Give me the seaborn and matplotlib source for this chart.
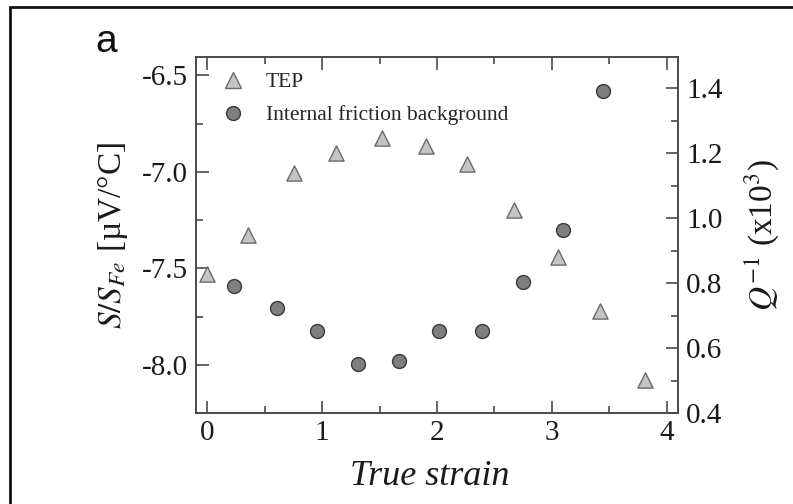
import matplotlib
matplotlib.use("Agg")
import matplotlib.pyplot as plt
import seaborn as sns
import pandas as pd
from matplotlib.patches import Rectangle
from matplotlib.ticker import MultipleLocator
from matplotlib.lines import Line2D

# ---- data ----
tep_strain = [0.0, 0.35, 0.75, 1.12, 1.52, 1.90, 2.26, 2.67, 3.05, 3.42, 3.81]
tep_values = [-7.53, -7.325, -7.005, -6.90, -6.825, -6.866, -6.96, -7.196, -7.44, -7.72, -8.08]
if_strain = [0.23, 0.61, 0.95, 1.31, 1.67, 2.02, 2.39, 2.75, 3.10, 3.45]
if_values = [0.79, 0.723, 0.652, 0.55, 0.56, 0.652, 0.652, 0.803, 0.963, 1.39]
x_ticks = [0, 1, 2, 3, 4]
left_ticks = [-6.5, -7.0, -7.5, -8.0]
right_ticks = [0.4, 0.6, 0.8, 1.0, 1.2, 1.4]

sns.set_style("white")
plt.rcParams["font.family"] = ["Liberation Serif", "DejaVu Serif"]
plt.rcParams["mathtext.fontset"] = "stix"

fig = plt.figure(figsize=(7.93, 5.04), dpi=100)
ax = fig.add_axes([196/793, 1-413/504, (678-196)/793, (413-57)/504])
ax2 = ax.twinx()

df_tep = pd.DataFrame({"strain": tep_strain, "val": tep_values})
df_if = pd.DataFrame({"strain": if_strain, "val": if_values})

sns.scatterplot(data=df_tep, x="strain", y="val", ax=ax, marker="^", s=120,
                color="#c4c4c4", edgecolor="#6a6a6a", linewidth=1.0, zorder=3)
sns.scatterplot(data=df_if, x="strain", y="val", ax=ax2, marker="o", s=100,
                color="#7f7f7f", edgecolor="#3a3a3a", linewidth=1.0, zorder=3)

ax.set_xlim(-0.1, 4.1)
ax.set_ylim(-8.25, -6.405)
ax2.set_ylim(0.4, 1.496)

spine_c = "#4a4a4a"
for a in (ax, ax2):
    for sp in a.spines.values():
        sp.set_color(spine_c)
        sp.set_linewidth(1.2)

ax.set_xticks(x_ticks)
ax.set_xticklabels([str(v) for v in x_ticks])
ax.xaxis.set_minor_locator(MultipleLocator(0.5))
ax.set_yticks(left_ticks)
ax.set_yticklabels([f"{v:.1f}" for v in left_ticks])
ax.yaxis.set_minor_locator(MultipleLocator(0.25))
ax2.set_yticks(right_ticks)
ax2.set_yticklabels([f"{v:.1f}" for v in right_ticks])
ax2.yaxis.set_minor_locator(MultipleLocator(0.1))

ax.tick_params(axis="x", which="both", direction="in", top=True, bottom=True,
               colors=spine_c, labelcolor="#1a1a1a", labelsize=21, pad=5)
ax.tick_params(axis="x", which="major", length=9, width=1.2)
ax.tick_params(axis="x", which="minor", length=5, width=1.2)
ax.tick_params(axis="y", which="both", direction="in", left=True, right=False,
               colors=spine_c, labelcolor="#1a1a1a", labelsize=21, pad=6)
ax.tick_params(axis="y", which="major", length=9, width=1.2)
ax.tick_params(axis="y", which="minor", length=5, width=1.2)
ax2.tick_params(axis="y", which="both", direction="in", right=True, left=False,
                colors=spine_c, labelcolor="#1a1a1a", labelsize=21, pad=6)
ax2.tick_params(axis="y", which="major", length=9, width=1.2)
ax2.tick_params(axis="y", which="minor", length=5, width=1.2)

ax.set_xlabel("True strain", fontsize=26, style="italic", color="#1a1a1a", labelpad=10)
ax.xaxis.label.set_x(0.485)
ax.set_ylabel(r"$S/S_{Fe}$ [µV/°C]", fontsize=24, color="#1a1a1a", labelpad=8)
ax2.set_ylabel(r"$Q^{\mathit{-1}}$ (x10$^{3}$)", fontsize=24, color="#1a1a1a", labelpad=14)

handles = [
    Line2D([], [], marker="^", linestyle="none", markersize=11,
           markerfacecolor="#c4c4c4", markeredgecolor="#6a6a6a", markeredgewidth=1.0),
    Line2D([], [], marker="o", linestyle="none", markersize=10,
           markerfacecolor="#7f7f7f", markeredgecolor="#3a3a3a", markeredgewidth=1.0),
]
ax2.legend(handles, ["TEP", "Internal friction background"], loc="upper left",
           frameon=False, fontsize=15.5, handletextpad=0.55, borderaxespad=0.3,
           labelspacing=0.6, bbox_to_anchor=(0.0, 1.0))

fig.text(95/793, 1-42/504, "a", fontsize=28, family="Liberation Sans",
         ha="left", va="center", color="#111111")

fig.patches.append(Rectangle((10/793, -0.2), 1.2, 1.2 - 7/504,
                             transform=fig.transFigure, fill=False,
                             edgecolor="#111111", linewidth=2))

fig.savefig("out.png", dpi=100)
